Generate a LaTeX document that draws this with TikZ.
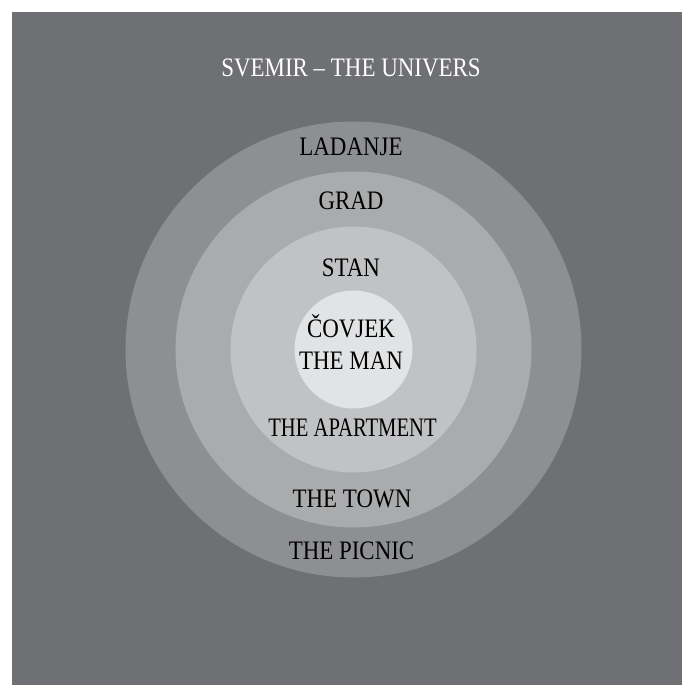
\documentclass[tikz,border=0pt]{standalone}
\usepackage{fontspec}
\setmainfont[FakeStretch=0.86]{Liberation Serif}
\usepackage{tikz}
\usetikzlibrary{positioning}
\definecolor{univers}{HTML}{6F7074}
\definecolor{ladanje}{HTML}{8E8F93}
\definecolor{grad}{HTML}{AAABAD}
\definecolor{stan}{HTML}{C1C2C4}
\definecolor{covjek}{HTML}{E2E3E4}
\tikzset{
  lbl/.style={inner sep=0pt, anchor=base, align=center,
              font=\fontsize{20pt}{23.3pt}\selectfont},
}

\begin{document}
\begin{tikzpicture}[x=0.75pt, y=-0.75pt]
  \useasboundingbox (0,0) rectangle (682,685);
  \fill[univers] (12,12) rectangle (682,685);

  \coordinate (c) at (353.5,349.5);
  \fill[ladanje] (c) circle[radius=228];
  \fill[grad]    (c) circle[radius=178];
  \fill[stan]    (c) circle[radius=123];
  \fill[covjek]  (c) circle[radius=59];

  \node[lbl, text=white] (svemir) at (351,77) {SVEMIR – THE UNIVERS};
  \node[lbl] (ladanje) at (351,155) {LADANJE};
  \node[lbl] (grad) at (351,209) {GRAD};
  \node[lbl] (stan) at (351,276) {STAN};
  \node[lbl] (covjek) at (351,337) {ČOVJEK};
  \node[lbl] (man) at (351,369) {THE MAN};
  \node[lbl] (apartment) at (352.5,436) {\scalebox{0.9}[1]{THE APARTMENT}};
  \node[lbl] (town) at (352,507) {THE TOWN};
  \node[lbl] (picnic) at (351.5,559) {THE PICNIC};
\end{tikzpicture}
\end{document}
